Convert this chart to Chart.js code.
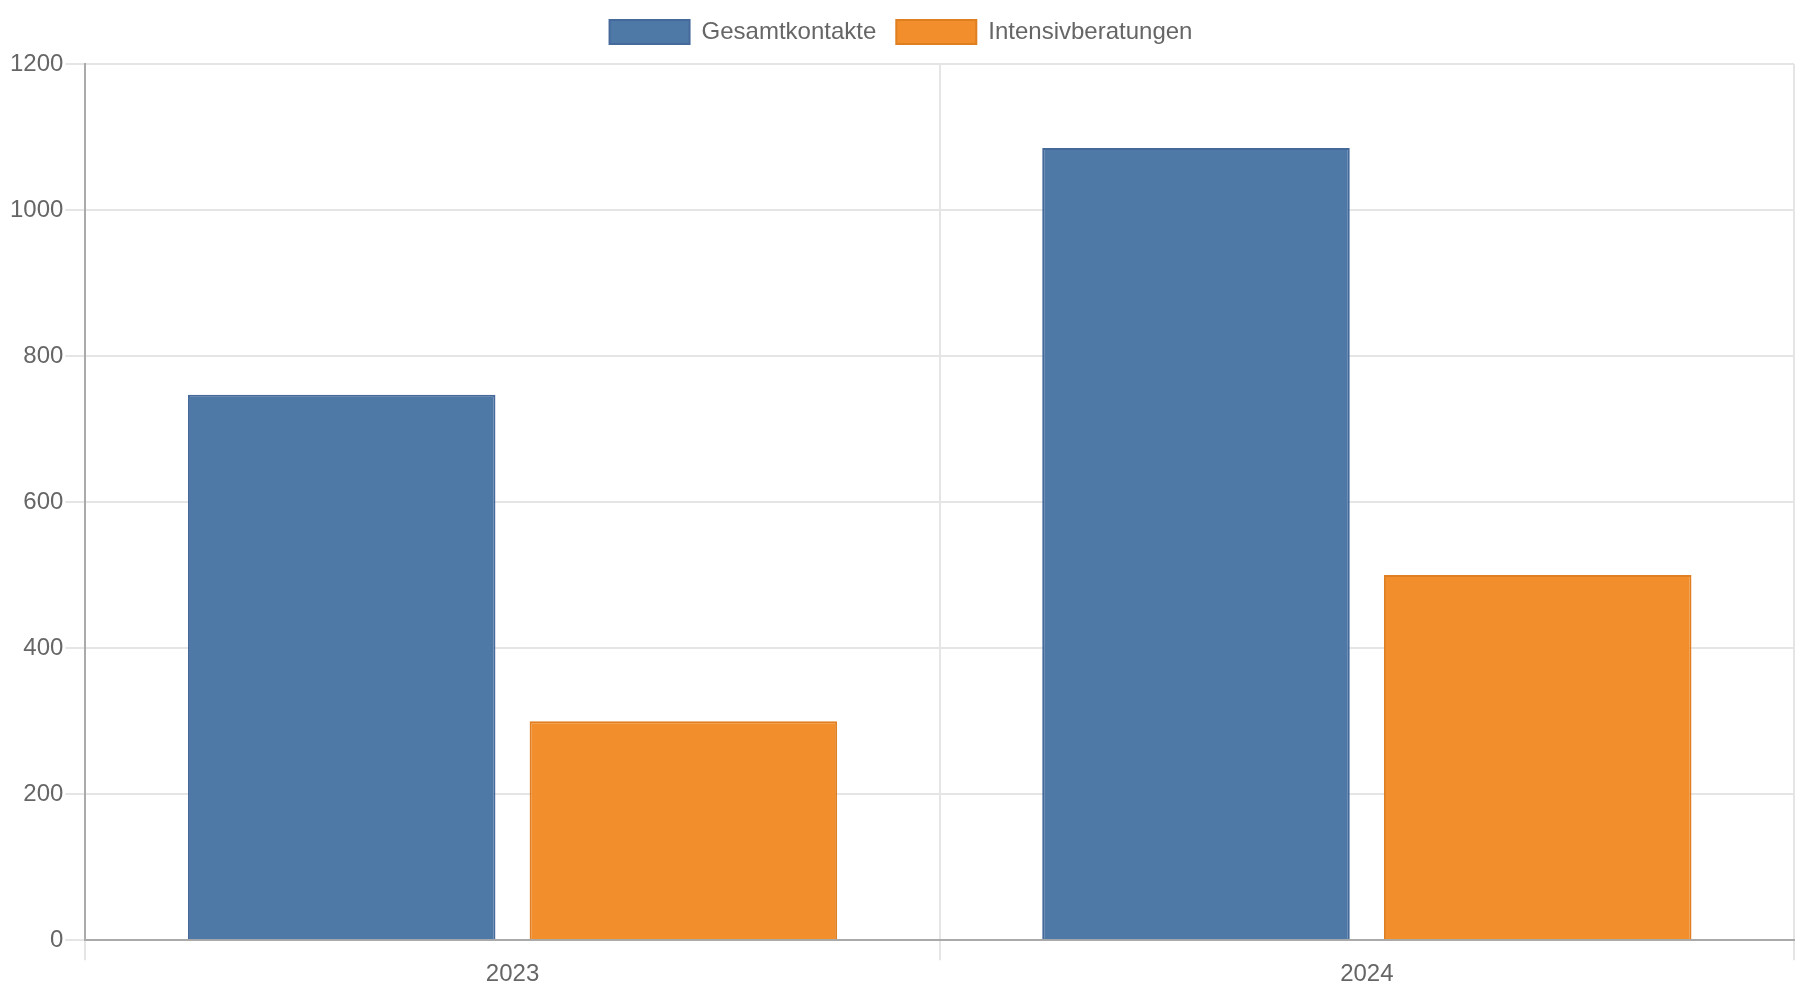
<!DOCTYPE html>
<html>
<head>
<meta charset="utf-8">
<script src="https://cdn.jsdelivr.net/npm/chart.js@4.4.1/dist/chart.umd.min.js"></script>
<style>
  html, body { margin: 0; padding: 0; background: #fff; }
  #wrap { width: 1800px; height: 1000px; }
</style>
</head>
<body>
<div id="wrap"><canvas id="kontakteChart" width="1800" height="1000"></canvas></div>
<script>
// values
const years = ['2023', '2024'];
const gesamtkontakte = [747, 1085];
const intensivberatungen = [300, 500];

Chart.defaults.font.family = '"Liberation Sans", Arial, sans-serif';
Chart.defaults.font.size = 24;
Chart.defaults.color = '#666';

// a bit more room under the legend, like the original
const legendGap = {
  id: 'legendGap',
  beforeInit(chart) {
    const fit = chart.legend.fit;
    chart.legend.fit = function () {
      fit.bind(chart.legend)();
      this.height += 10;
    };
  }
};

const kontakteChart = new Chart(document.getElementById('kontakteChart').getContext('2d'), {
  type: 'bar',
  data: {
    labels: years,
    datasets: [{
      label: 'Gesamtkontakte',
      data: gesamtkontakte,
      backgroundColor: '#4e79a7',
      borderColor: '#44699a',
      borderWidth: 2
    }, {
      label: 'Intensivberatungen',
      data: intensivberatungen,
      backgroundColor: '#f28e2b',
      borderColor: '#df7f22',
      borderWidth: 2
    }]
  },
  plugins: [legendGap],
  options: {
    responsive: false,
    devicePixelRatio: 1,
    animation: false,
    layout: {
      padding: { left: 8, right: 6, bottom: 11 }
    },
    plugins: {
      legend: {
        display: true,
        position: 'top',
        labels: {
          boxWidth: 80,
          boxHeight: 24,
          padding: 20
        }
      },
      tooltip: { enabled: false }
    },
    scales: {
      x: {
        grid: {
          color: '#e5e5e5',
          lineWidth: 2,
          tickLength: 20
        },
        border: { color: '#aaa', width: 2 },
        ticks: { padding: 0 }
      },
      y: {
        min: 0,
        max: 1200,
        ticks: {
          stepSize: 200,
          padding: 2,
          callback: (value) => String(value) // no thousands separator
        },
        grid: {
          color: '#e5e5e5',
          lineWidth: 2,
          tickLength: 20
        },
        border: { color: '#aaa', width: 2 }
      }
    }
  }
});
</script>
</body>
</html>
